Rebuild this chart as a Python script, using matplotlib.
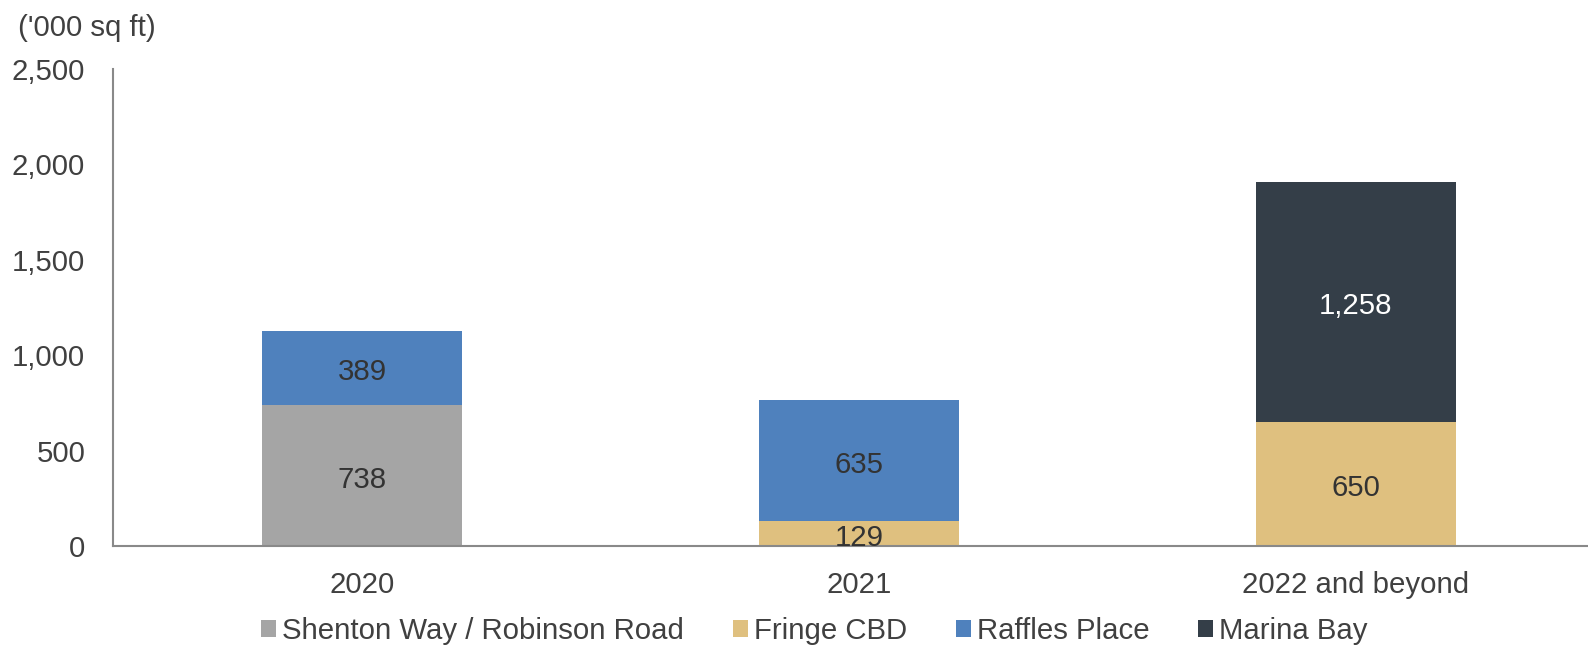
import matplotlib
matplotlib.use("Agg")
import matplotlib.pyplot as plt
from matplotlib.patches import Patch
from matplotlib.ticker import FuncFormatter
from matplotlib.transforms import offset_copy

plt.rcParams['font.family'] = ['Liberation Sans', 'DejaVu Sans']

categories = ["2020", "2021", "2022 and beyond"]
series_names = ["Shenton Way / Robinson Road", "Fringe CBD", "Raffles Place", "Marina Bay"]
shenton = [738, 0, 0]
fringe = [0, 129, 650]
raffles = [389, 635, 0]
marina = [0, 0, 1258]
y_ticks = [0, 500, 1000, 1500, 2000, 2500]

colors = ["#A5A5A5", "#DFC07F", "#4F81BD", "#343E48"]
label_colors = ["#333333", "#333333", "#333333", "#FFFFFF"]
text_color = "#404040"
fs = 21.2

fig = plt.figure(figsize=(15.88, 6.45), dpi=100)
ax = fig.add_axes([113 / 1588, 1 - 546 / 645, (1587 - 113) / 1588, (546 - 69) / 645])

# value labels sit slightly below the geometric centre of each segment
label_tf = offset_copy(ax.transData, fig=fig, x=0, y=-3, units="points")

x = list(range(len(categories)))
width = 0.402
bottom = [0, 0, 0]
for vals, col, lc in zip([shenton, fringe, raffles, marina], colors, label_colors):
    ax.bar(x, vals, width, bottom=bottom, color=col, edgecolor="none", zorder=2)
    for xi, v, b in zip(x, vals, bottom):
        if v > 0:
            ax.text(xi, b + v / 2, f"{v:,}", ha="center", va="center",
                    fontsize=fs, color=lc, zorder=3, transform=label_tf)
    bottom = [b + v for b, v in zip(bottom, vals)]

ax.set_xlim(-0.501, 2.465)
ax.set_ylim(0, 2500)
ax.set_yticks(y_ticks)
ax.yaxis.set_major_formatter(FuncFormatter(lambda v, p: f"{int(v):,}"))
ax.set_xticks(x)
ax.set_xticklabels(categories)
ax.tick_params(axis="y", length=0, pad=20, labelsize=fs, labelcolor=text_color)
ax.tick_params(axis="x", length=0, pad=18, labelsize=fs, labelcolor=text_color)

for s in ["top", "right"]:
    ax.spines[s].set_visible(False)
for s in ["left", "bottom"]:
    ax.spines[s].set_color("#898989")
    ax.spines[s].set_linewidth(1.5)

fig.text(18 / 1588, 1 - 28 / 645, "('000 sq ft)", ha="left", va="center",
         fontsize=fs, color=text_color)

handles = [Patch(facecolor=c, edgecolor="none") for c in colors]
fig.legend(handles, series_names, loc="center left",
           bbox_to_anchor=(261 / 1588, 1 - 631 / 645), ncol=4, frameon=False,
           fontsize=fs, labelcolor=text_color, handlelength=0.52, handleheight=0.52,
           handletextpad=0.2, columnspacing=1.65, borderpad=0, borderaxespad=0)

fig.savefig("out.png", dpi=100, facecolor="white")
